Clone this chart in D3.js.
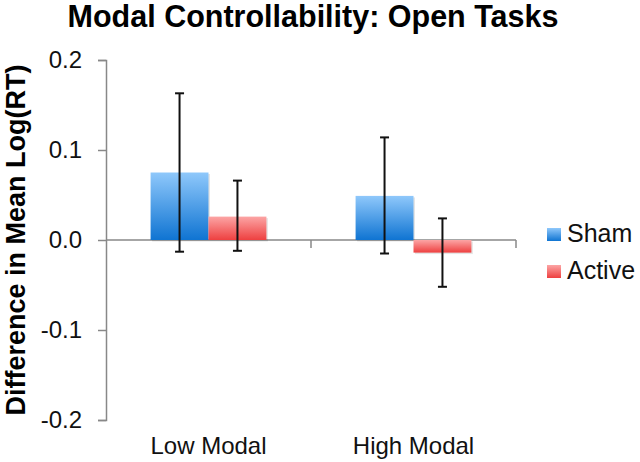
<!DOCTYPE html>
<html><head><meta charset="utf-8">
<script src="https://cdn.jsdelivr.net/npm/d3@7"></script>
<style>body{margin:0;background:#fff}svg{display:block}</style>
</head><body>
<svg id="c" width="640" height="462"></svg>
<script>
const categories = ["Low Modal", "High Modal"];
const seriesNames = ["Sham", "Active"];
const shamValues = [0.075, 0.049];
const activeValues = [0.026, -0.014];
const shamErrLow = [-0.013, -0.015];
const shamErrHigh = [0.163, 0.114];
const activeErrLow = [-0.012, -0.052];
const activeErrHigh = [0.066, 0.024];
const yTicks = [-0.2, -0.1, 0.0, 0.1, 0.2];

const svg = d3.select("#c");
const font = "'Liberation Sans', Arial, sans-serif";
const x0 = d3.scaleBand().domain(categories).range([106, 516]);
const x1 = d3.scaleBand().domain(seriesNames).range([0, x0.bandwidth()]).paddingOuter(0.77).paddingInner(0);
const y = d3.scaleLinear().domain([-0.2, 0.2]).range([420, 60]);

const defs = svg.append("defs");
const gB = defs.append("linearGradient").attr("id","gB").attr("x1",0).attr("y1",0).attr("x2",0).attr("y2",1);
gB.append("stop").attr("offset","0%").attr("stop-color","#8fc8fb");
gB.append("stop").attr("offset","100%").attr("stop-color","#0f74d2");
const gR = defs.append("linearGradient").attr("id","gR").attr("x1",0).attr("y1",0).attr("x2",0).attr("y2",1);
gR.append("stop").attr("offset","0%").attr("stop-color","#fca5a5");
gR.append("stop").attr("offset","100%").attr("stop-color","#ee4040");
const colors = {Sham:"url(#gB)", Active:"url(#gR)"};
const legendColors = {Sham:"url(#gB)", Active:"url(#gR)"};

// y axis
const yAxis = svg.append("g").attr("transform","translate(106,0)")
  .call(d3.axisLeft(y).tickValues(yTicks).tickFormat(d3.format(".1f")).tickSize(8).tickSizeOuter(8));
yAxis.select(".domain").attr("stroke","#888").attr("stroke-width",1.5);
yAxis.selectAll(".tick line").attr("stroke","#888").attr("stroke-width",1.5);
yAxis.selectAll(".tick text").attr("font-family",font).attr("font-size",24).attr("fill","#111")
  .attr("x",-24).text(d => d < 0 ? "-" + Math.abs(d).toFixed(1) : d.toFixed(1));

// x axis at zero
const xAxis = svg.append("g").attr("transform",`translate(0,${y(0)})`);
xAxis.append("line").attr("x1",x0.range()[0]).attr("x2",x0.range()[1]).attr("stroke","#888").attr("stroke-width",1.5);
[x0.range()[0] + x0.step(), x0.range()[1]].forEach(px => {
  xAxis.append("line").attr("x1",px).attr("x2",px).attr("y1",0).attr("y2",8).attr("stroke","#888").attr("stroke-width",1.5);
});
// category labels
svg.append("g").selectAll("text").data(categories).join("text")
  .attr("x", d => x0(d) + x0.bandwidth()/2).attr("y", 454)
  .attr("text-anchor","middle").attr("font-family",font).attr("font-size",24).attr("fill","#111").text(d => d);

// data rows
const rows = [];
categories.forEach((c,i) => {
  rows.push({cat:c, s:"Sham", v:shamValues[i], lo:shamErrLow[i], hi:shamErrHigh[i]});
  rows.push({cat:c, s:"Active", v:activeValues[i], lo:activeErrLow[i], hi:activeErrHigh[i]});
});

// bar shadow
svg.append("g").selectAll("rect").data(rows).join("rect")
  .attr("x", d => x0(d.cat) + x1(d.s) + 1.5)
  .attr("y", d => y(Math.max(0,d.v)) + 1.5)
  .attr("width", x1.bandwidth())
  .attr("height", d => Math.abs(y(d.v) - y(0)))
  .attr("fill","#000").attr("opacity",0.1);

svg.append("g").selectAll("rect").data(rows).join("rect")
  .attr("x", d => x0(d.cat) + x1(d.s))
  .attr("y", d => y(Math.max(0,d.v)))
  .attr("width", x1.bandwidth())
  .attr("height", d => Math.abs(y(d.v) - y(0)))
  .attr("fill", d => colors[d.s]);

// error bars
const eg = svg.append("g").attr("stroke","#111").attr("stroke-width",2);
rows.forEach(d => {
  const cx = x0(d.cat) + x1(d.s) + x1.bandwidth()/2;
  eg.append("line").attr("x1",cx).attr("x2",cx).attr("y1",y(d.hi)).attr("y2",y(d.lo));
  [d.hi, d.lo].forEach(v => eg.append("line").attr("x1",cx-4.5).attr("x2",cx+4.5).attr("y1",y(v)).attr("y2",y(v)));
});

// legend
const lg = svg.append("g");
seriesNames.forEach((s,i) => {
  const ly = 242 + i*37;
  lg.append("rect").attr("x",547).attr("y",ly-14).attr("width",14).attr("height",13).attr("fill",legendColors[s]);
  lg.append("text").attr("x",567).attr("y",ly).attr("font-family",font).attr("font-size",25).attr("fill","#111").text(s);
});

// title
svg.append("text").attr("x",313).attr("y",27).attr("text-anchor","middle").attr("font-family",font)
  .attr("font-weight","bold").attr("font-size",30.5).attr("fill","#000").text("Modal Controllability: Open Tasks");
// y label
svg.append("text").attr("transform","translate(25,240) rotate(-90)").attr("text-anchor","middle").attr("font-family",font)
  .attr("font-weight","bold").attr("font-size",27).attr("fill","#000").text("Difference in Mean Log(RT)");
</script>
</body></html>
